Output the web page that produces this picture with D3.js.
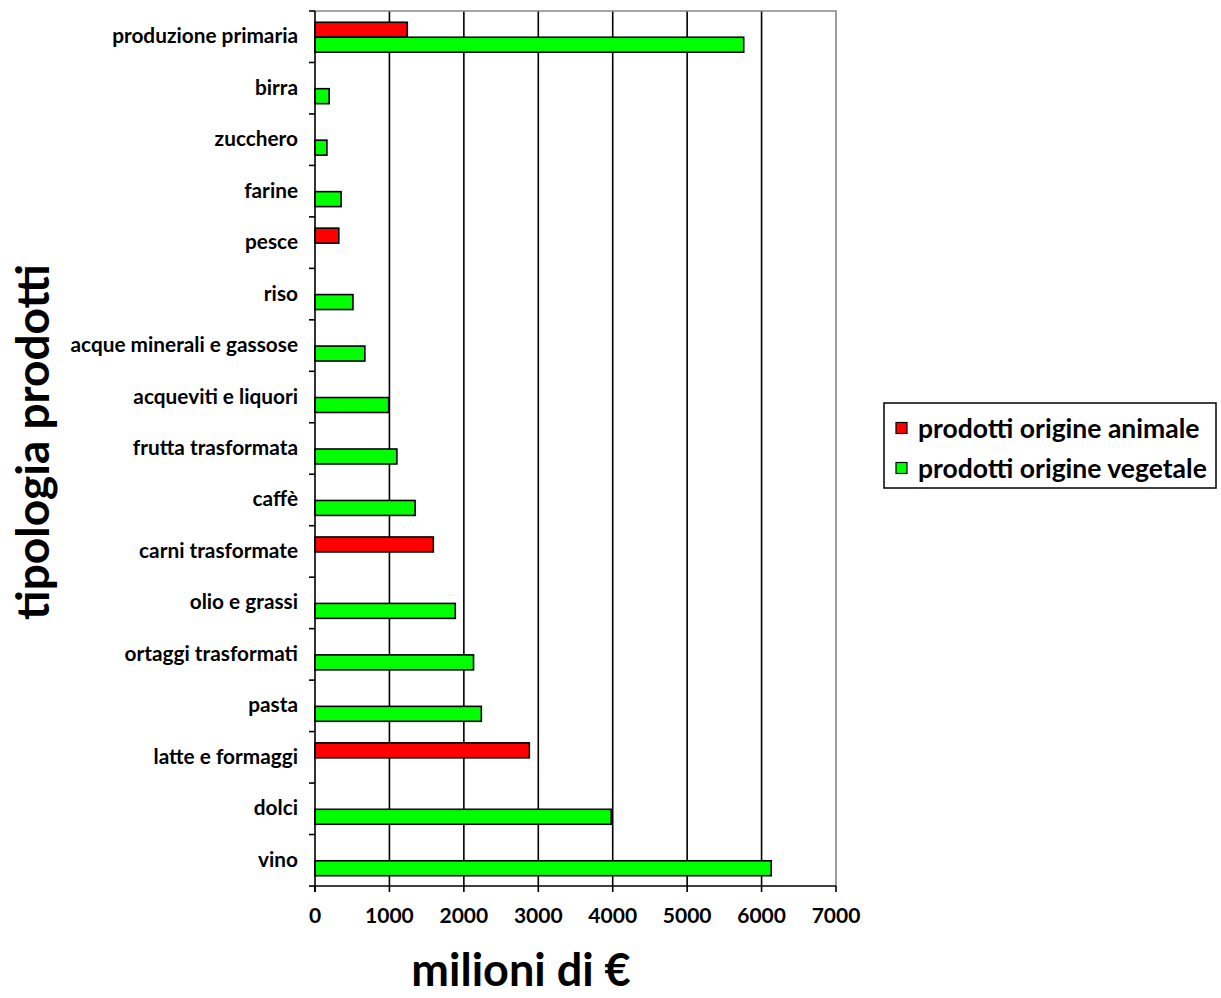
<!DOCTYPE html>
<html>
<head>
<meta charset="utf-8">
<script src="https://cdn.jsdelivr.net/npm/d3@7"></script>
<style>
  html, body { margin: 0; padding: 0; background: #fff; }
  svg { display: block; }
  text { font-family: Lato, "Open Sans", sans-serif; font-weight: bold; fill: #000; }
</style>
</head>
<body>
<svg id="chart" width="1221" height="998"></svg>
<script>
// Categories, top to bottom
const categories = [
  "produzione primaria", "birra", "zucchero", "farine", "pesce", "riso",
  "acque minerali e gassose", "acqueviti e liquori", "frutta trasformata",
  "caffè", "carni trasformate", "olio e grassi", "ortaggi trasformati",
  "pasta", "latte e formaggi", "dolci", "vino"
];
// milioni di € — animal-origin products (0 = no bar)
const animale = [1240, 0, 0, 0, 320, 0, 0, 0, 0, 0, 1590, 0, 0, 0, 2880, 0, 0];
// milioni di € — plant-origin products
const vegetale = [5760, 190, 160, 350, 0, 510, 670, 990, 1100, 1345, 0, 1885, 2130, 2235, 0, 3980, 6130];
const seriesNames = ["prodotti origine animale", "prodotti origine vegetale"];
const seriesColors = ["#ff0000", "#00ff00"];
const xTicks = [0, 1000, 2000, 3000, 4000, 5000, 6000, 7000];

const svg = d3.select("#chart");
const plot = { left: 315, top: 11, right: 836, bottom: 886 };

const x = d3.scaleLinear().domain([0, 7000]).range([plot.left, plot.right]);
const y = d3.scaleBand().domain(categories).range([plot.top, plot.bottom]).paddingInner(0).paddingOuter(0);
const inner = d3.scaleBand().domain([0, 1]).range([0, y.bandwidth()]).paddingInner(0).paddingOuter(0.72);

// vertical gridlines
svg.append("g")
  .selectAll("line")
  .data(xTicks.slice(1, -1))
  .join("line")
  .attr("x1", d => x(d)).attr("x2", d => x(d))
  .attr("y1", plot.top).attr("y2", plot.bottom)
  .attr("stroke", "#000").attr("stroke-width", 1.6);

// plot frame: grey top and right edges
svg.append("path")
  .attr("d", `M${plot.left},${plot.top}H${plot.right}V${plot.bottom}`)
  .attr("fill", "none").attr("stroke", "#888").attr("stroke-width", 1.6);

// bars
const rows = categories.map((c, i) => ({ c, vals: [animale[i], vegetale[i]] }));
const bars = [];
rows.forEach(r => r.vals.forEach((v, s) => { if (v > 0) bars.push({ c: r.c, s, v }); }));
svg.append("g")
  .selectAll("rect")
  .data(bars)
  .join("rect")
  .attr("x", x(0))
  .attr("y", d => y(d.c) + inner(d.s) + 0.5)
  .attr("width", d => x(d.v) - x(0))
  .attr("height", inner.bandwidth())
  .attr("fill", d => seriesColors[d.s])
  .attr("stroke", "#000").attr("stroke-width", 1.6);

// y axis
const yAxis = svg.append("g").attr("transform", `translate(${plot.left},0)`);
yAxis.append("line")
  .attr("x1", 0).attr("x2", 0).attr("y1", plot.top).attr("y2", plot.bottom + 6)
  .attr("stroke", "#000").attr("stroke-width", 1.6);
yAxis.selectAll("line.tick")
  .data(categories.concat(["__end"]))
  .join("line").attr("class", "tick")
  .attr("x1", -6).attr("x2", 0)
  .attr("y1", (d, i) => plot.top + i * y.bandwidth())
  .attr("y2", (d, i) => plot.top + i * y.bandwidth())
  .attr("stroke", "#000").attr("stroke-width", 1.6);
yAxis.selectAll("text")
  .data(categories)
  .join("text")
  .attr("x", -17)
  .attr("y", d => y(d) + y.bandwidth() / 2 - 2)
  .attr("text-anchor", "end")
  .attr("dominant-baseline", "central")
  .style("font-size", "20.8px")
  .text(d => d);

// x axis
const xAxis = svg.append("g").attr("transform", `translate(0,${plot.bottom})`);
xAxis.append("line")
  .attr("x1", plot.left).attr("x2", plot.right).attr("y1", 0).attr("y2", 0)
  .attr("stroke", "#000").attr("stroke-width", 1.6);
xAxis.selectAll("line.tick")
  .data(xTicks)
  .join("line").attr("class", "tick")
  .attr("x1", d => x(d)).attr("x2", d => x(d))
  .attr("y1", 0).attr("y2", 6)
  .attr("stroke", "#000").attr("stroke-width", 1.6);
xAxis.selectAll("text")
  .data(xTicks)
  .join("text")
  .attr("x", d => x(d))
  .attr("y", 37)
  .attr("text-anchor", "middle")
  .style("font-size", "21px")
  .text(d => d);

// axis titles
svg.append("text")
  .attr("x", 521).attr("y", 986)
  .attr("text-anchor", "middle")
  .style("font-size", "45px")
  .text("milioni di €");
svg.append("text")
  .attr("transform", "translate(49,442) rotate(-90)")
  .attr("text-anchor", "middle")
  .style("font-size", "46px")
  .text("tipologia prodotti");

// legend
const legend = svg.append("g").attr("transform", "translate(884,403)");
legend.append("rect")
  .attr("x", 0).attr("y", 0).attr("width", 332).attr("height", 85)
  .attr("fill", "#fff").attr("stroke", "#000").attr("stroke-width", 1.5);
const items = legend.selectAll("g.item")
  .data(seriesNames)
  .join("g").attr("class", "item")
  .attr("transform", (d, i) => `translate(12,${25 + i * 40})`);
items.append("rect")
  .attr("x", 0).attr("y", -5.5).attr("width", 11).attr("height", 11)
  .attr("fill", (d, i) => seriesColors[i])
  .attr("stroke", "#000").attr("stroke-width", 1.2);
items.append("text")
  .attr("x", 22).attr("y", 0)
  .attr("dominant-baseline", "central")
  .style("font-size", "26.5px")
  .text(d => d);
</script>
</body>
</html>
